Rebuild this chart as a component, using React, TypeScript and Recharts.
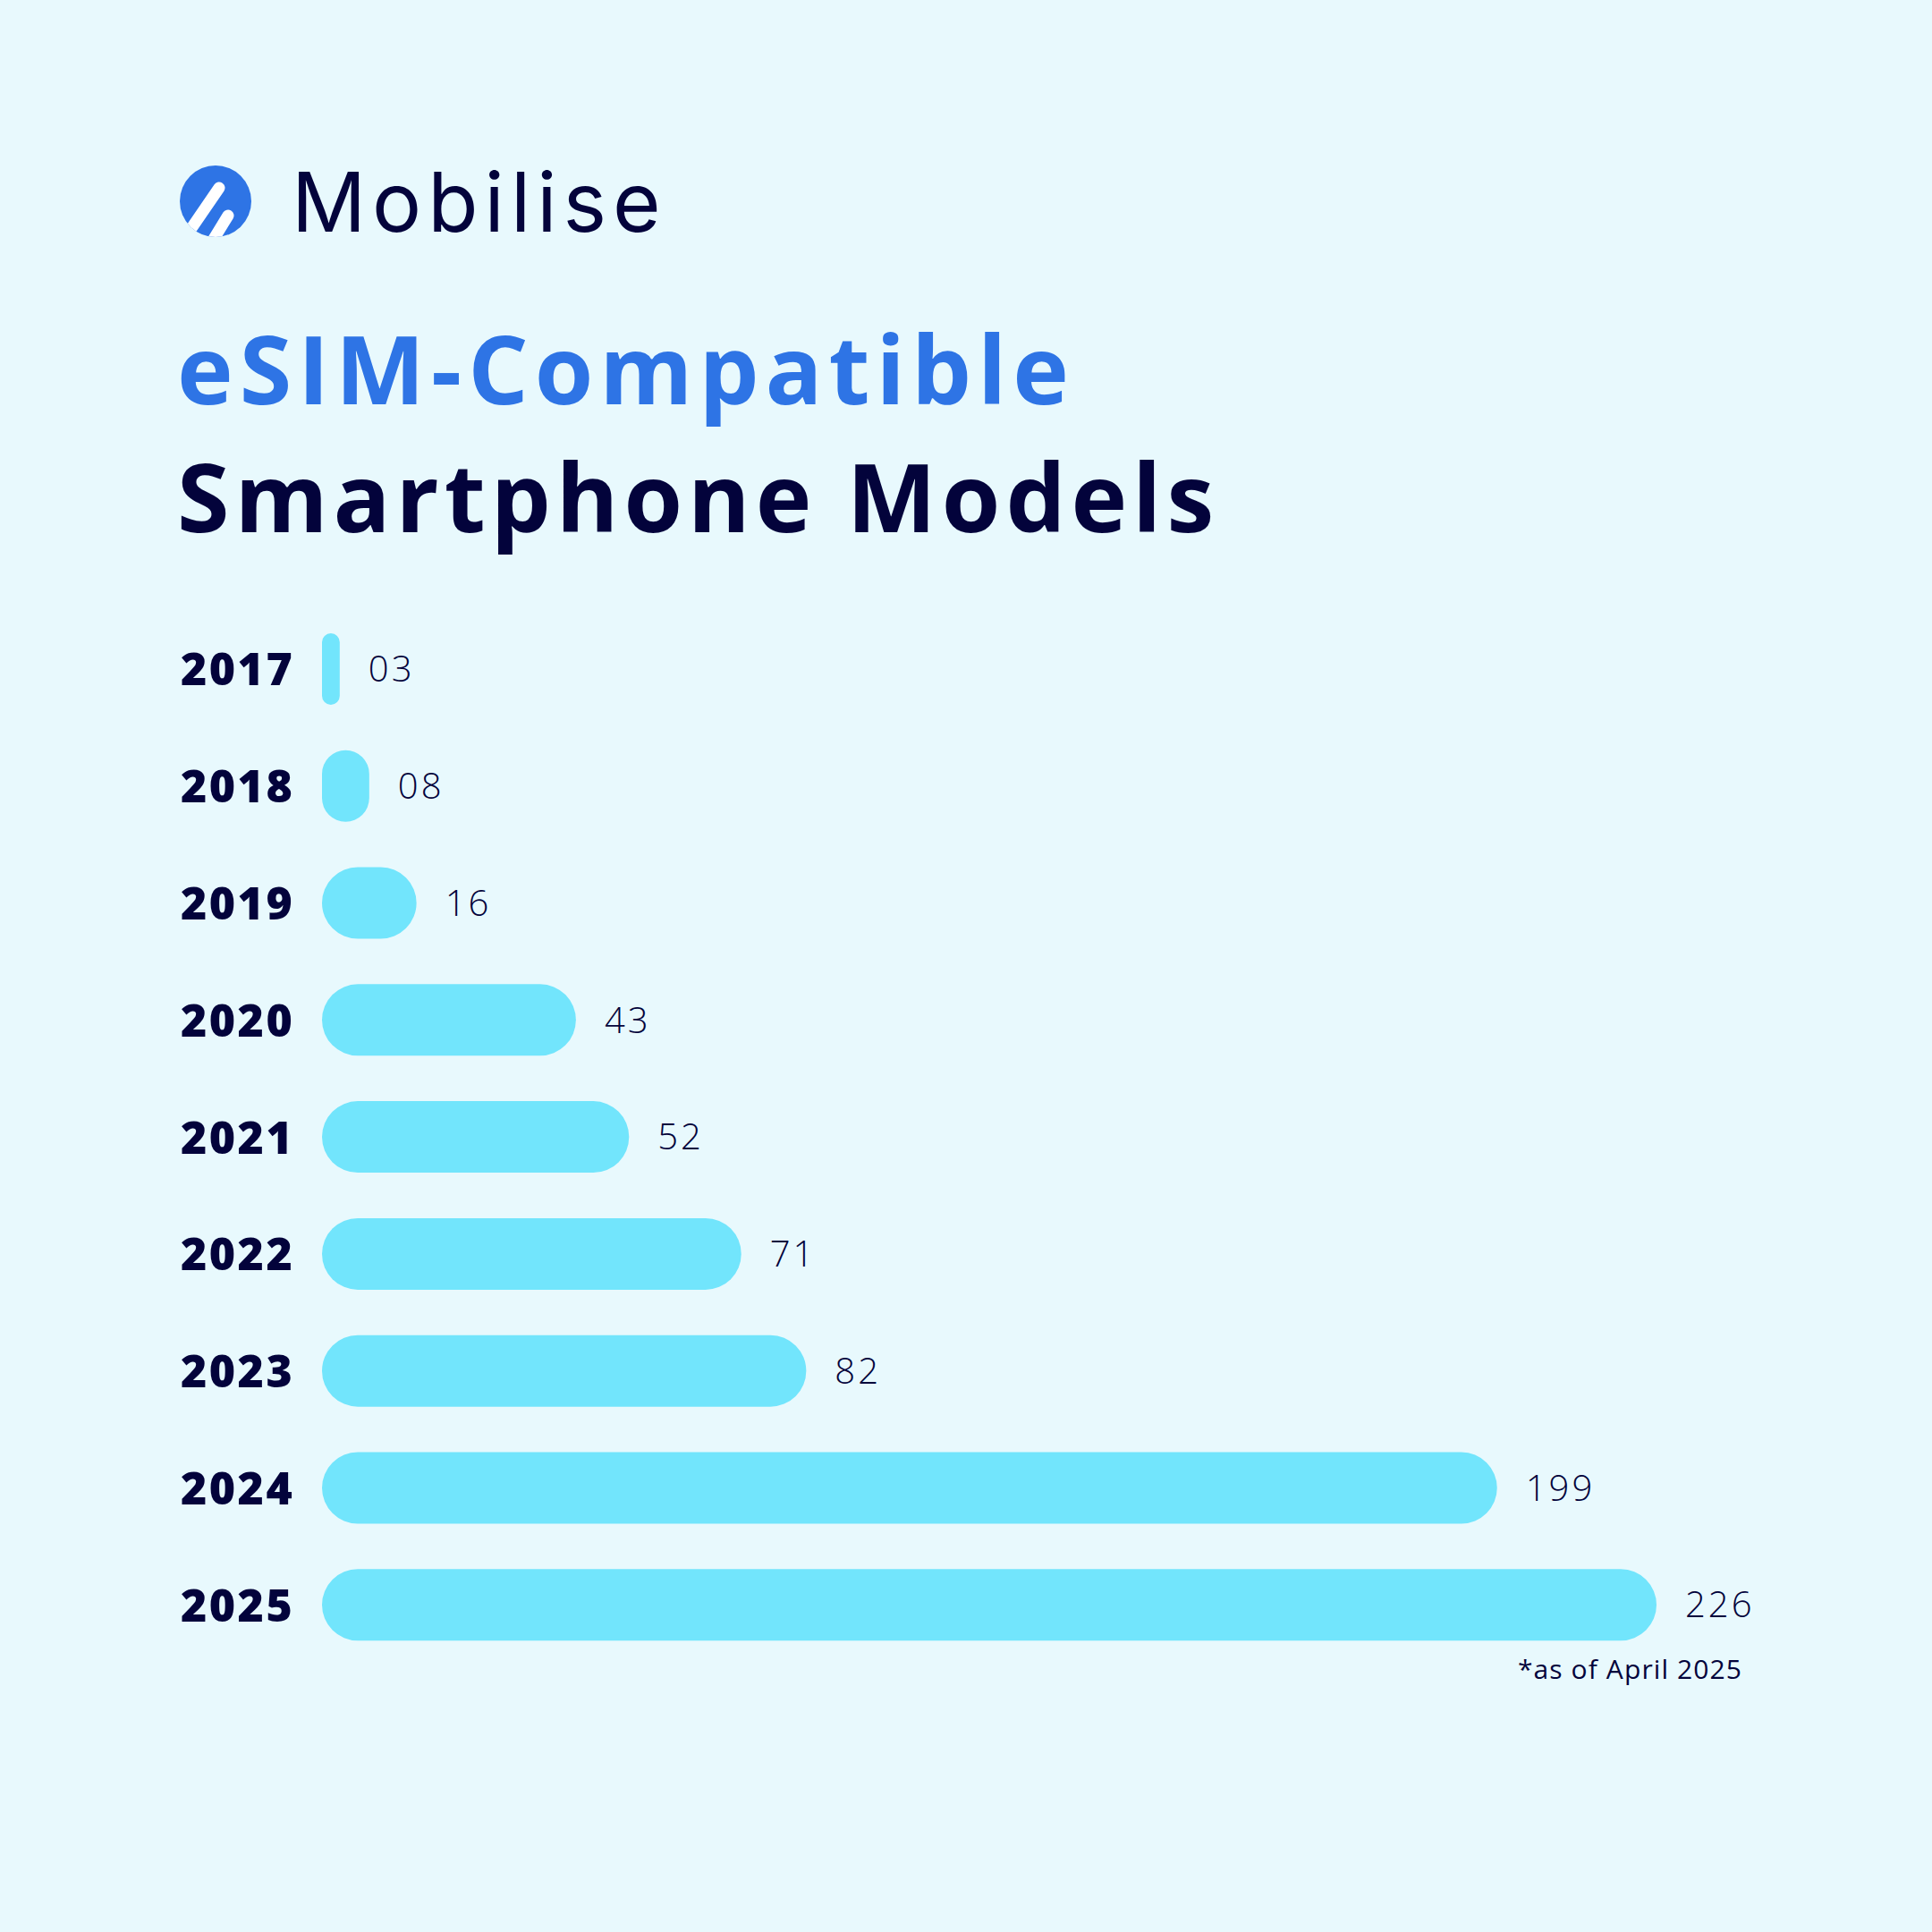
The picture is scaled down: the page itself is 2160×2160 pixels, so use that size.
import { BarChart, Bar, XAxis, YAxis, LabelList } from "recharts";

const years = ["2017", "2018", "2019", "2020", "2021", "2022", "2023", "2024", "2025"];
const models = [3, 8, 16, 43, 52, 71, 82, 199, 226];
const valueLabels = ["03", "08", "16", "43", "52", "71", "82", "199", "226"];

const BG = "#E8F9FD";
const NAVY = "#03033B";
const BLUE = "#2E74E5";
const BAR = "#72E5FC";

const data = years.map((year, i) => ({
  year,
  models: models[i],
  label: valueLabels[i],
}));

function YearTick(props: any) {
  const { y, payload } = props;
  return (
    <text
      x={202}
      y={y}
      dy="0.36em"
      textAnchor="start"
      fill={NAVY}
      fontFamily="'Open Sans', sans-serif"
      fontWeight={800}
      fontSize={50}
      letterSpacing={2.5}
    >
      {payload.value}
    </text>
  );
}

function Logo() {
  return (
    <svg width={90} height={90} viewBox="0 0 90 90" style={{ position: "absolute", left: 196, top: 180 }}>
      <defs>
        <clipPath id="logoClip">
          <circle cx={45} cy={45} r={40} />
        </clipPath>
      </defs>
      <circle cx={45} cy={45} r={40} fill={BLUE} />
      <g clipPath="url(#logoClip)" stroke="#FFFFFF" strokeWidth={13} strokeLinecap="round">
        <line x1={49} y1={30} x2={12} y2={84} />
        <line x1={59} y1={61} x2={40} y2={92} />
      </g>
    </svg>
  );
}

export default function App() {
  return (
    <div style={{ position: "relative", width: 2160, height: 2160, background: BG, overflow: "hidden" }}>
      <style>{`body{margin:0}`}</style>
      <Logo />
      <div
        style={{
          position: "absolute",
          left: 326,
          top: 166,
          fontFamily: "Inter, sans-serif",
          fontSize: 92,
          color: NAVY,
          lineHeight: "120px",
          letterSpacing: 7,
        }}
      >
        Mobilise
      </div>
      <div
        style={{
          position: "absolute",
          left: 198,
          top: 340,
          fontFamily: "'Open Sans', sans-serif",
          fontWeight: 700,
          fontSize: 106,
          lineHeight: "142px",
          color: BLUE,
          letterSpacing: 7,
        }}
      >
        eSIM-Compatible
      </div>
      <div
        style={{
          position: "absolute",
          left: 198,
          top: 483,
          fontFamily: "'Open Sans', sans-serif",
          fontWeight: 700,
          fontSize: 106,
          lineHeight: "142px",
          color: NAVY,
          letterSpacing: 6,
        }}
      >
        Smartphone Models
      </div>
      <div style={{ position: "absolute", left: 0, top: 0 }}>
        <BarChart
          layout="vertical"
          width={2160}
          height={1900}
          data={data}
          margin={{ top: 683, right: 308, bottom: 40, left: 0 }}
          barCategoryGap={50}
        >
          <XAxis type="number" hide domain={[0, 226]} />
          <YAxis
            type="category"
            dataKey="year"
            width={360}
            axisLine={false}
            tickLine={false}
            tick={<YearTick />}
          />
          <Bar dataKey="models" fill={BAR} barSize={80} radius={40} isAnimationActive={false}>
            <LabelList
              dataKey="label"
              position="right"
              offset={32}
              fill={NAVY}
              fontFamily="'Open Sans', sans-serif"
              fontWeight={300}
              fontSize={40}
              letterSpacing={3}
            />
          </Bar>
        </BarChart>
      </div>
      <div
        style={{
          position: "absolute",
          right: 2160 - 1948,
          top: 1846,
          fontFamily: "'Open Sans', sans-serif",
          fontSize: 30,
          lineHeight: "40px",
          color: NAVY,
          letterSpacing: 1.1,
        }}
      >
        *as of April 2025
      </div>
    </div>
  );
}
